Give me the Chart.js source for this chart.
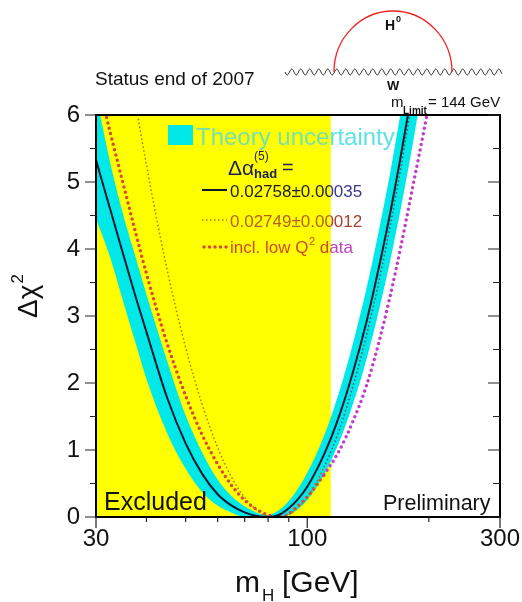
<!DOCTYPE html>
<html>
<head>
<meta charset="utf-8">
<script src="https://cdn.jsdelivr.net/npm/chart.js@4"></script>
<style>
  html, body { margin: 0; padding: 0; background: #ffffff; }
  canvas { display: block; }
</style>
</head>
<body>
<canvas id="chart" width="522" height="602"></canvas>
<script>
const FONT = "'Liberation Sans', Arial, Helvetica, sans-serif";

// Higgs mass grid [GeV]
const higgsMass = [30, 32.5, 35, 37.5, 40, 45, 50, 55, 60, 65, 70, 75, 80, 85, 90, 95,
                   100, 110, 120, 130, 140, 150, 160, 170, 180, 190, 200, 210];

// Delta chi^2, fit with Delta alpha_had = 0.02758 +- 0.00035
const chi2Fit = [5.33, 4.60, 3.93, 3.31, 2.76, 1.78, 1.10, 0.64, 0.34, 0.17, 0.07, 0.015, 0.00, 0.03, 0.13, 0.27,
                 0.45, 0.93, 1.51, 2.18, 2.90, 3.69, 4.50, 5.35, 6.21, 7.05, 7.92, 8.80];

// theory uncertainty band (upper and lower edge)
const bandHigh = [6.30, 5.30, 4.52, 3.90, 3.32, 2.33, 1.52, 0.96, 0.56, 0.31, 0.16, 0.065, 0.03, 0.10, 0.24, 0.43,
                  0.66, 1.21, 1.87, 2.61, 3.40, 4.24, 5.10, 6.01, 6.93, 7.90, 8.80, 9.70];
const bandLow  = [4.45, 3.88, 3.22, 2.62, 2.06, 1.25, 0.72, 0.37, 0.17, 0.065, 0.00, 0.00, 0.00, 0.00, 0.03, 0.12,
                  0.25, 0.63, 1.12, 1.70, 2.34, 3.05, 3.79, 4.57, 5.37, 6.19, 7.01, 7.84];

// Delta alpha_had = 0.02749 +- 0.00012
const chi2Narrow = [10.2, 8.66, 7.34, 6.22, 5.25, 3.69, 2.53, 1.67, 1.04, 0.59, 0.29, 0.10, 0.01, 0.00, 0.04, 0.14,
                    0.30, 0.74, 1.30, 1.97, 2.70, 3.48, 4.31, 5.17, 6.06, 6.96, 7.80, 8.70];

// including low Q^2 data
const chi2LowQ2 = [6.60, 5.75, 4.98, 4.27, 3.63, 2.59, 1.81, 1.22, 0.79, 0.47, 0.25, 0.11, 0.03, 0.00, 0.05, 0.17,
                   0.30, 0.63, 0.99, 1.44, 1.95, 2.58, 3.27, 4.00, 4.75, 5.46, 6.15, 6.80];

// direct search limit [GeV]
const lepLimit = 114.4;

const yTickValues = [0, 1, 2, 3, 4, 5, 6];
const yMinorValues = [0.5, 1.5, 2.5, 3.5, 4.5, 5.5];
const xTickValues = [30, 100, 300];
const xMinorValues = [40, 50, 60, 70, 80, 90, 200];

const pts = arr => higgsMass.map((m, i) => ({ x: m, y: arr[i] }));

const YELLOW = '#ffff00';
const CYAN = '#00e8e8';

// exclusion region under everything
const exclusionPlugin = {
  id: 'exclusion',
  beforeDatasetsDraw(chart) {
    const { ctx, chartArea: a, scales: { x } } = chart;
    const xl = x.getPixelForValue(lepLimit);
    ctx.save();
    ctx.fillStyle = YELLOW;
    ctx.fillRect(a.left, a.top, xl - a.left, a.bottom - a.top);
    ctx.restore();
  }
};

function splitText(ctx, text, px, py, splitX, colLeft, colRight) {
  ctx.save();
  ctx.beginPath(); ctx.rect(0, 0, splitX, 602); ctx.clip();
  ctx.fillStyle = colLeft; ctx.fillText(text, px, py);
  ctx.restore();
  ctx.save();
  ctx.beginPath(); ctx.rect(splitX, 0, 600, 602); ctx.clip();
  ctx.fillStyle = colRight; ctx.fillText(text, px, py);
  ctx.restore();
  return ctx.measureText(text).width;
}

// frame, tick marks, legend and annotations
const decorPlugin = {
  id: 'decor',
  afterDatasetsDraw(chart) {
    const { ctx, chartArea: a, scales: { x, y } } = chart;
    const xl = x.getPixelForValue(lepLimit);
    ctx.save();

    // frame
    ctx.strokeStyle = '#000';
    ctx.lineWidth = 2;
    ctx.strokeRect(a.left, a.top, a.right - a.left, a.bottom - a.top);

    // y ticks: outward on the left, inward on the right
    ctx.lineWidth = 1.2;
    ctx.strokeStyle = '#222';
    ctx.beginPath();
    yTickValues.forEach(v => {
      const py = y.getPixelForValue(v);
      ctx.moveTo(a.left - 11, py); ctx.lineTo(a.left, py);
      ctx.moveTo(a.right - 12, py); ctx.lineTo(a.right, py);
    });
    yMinorValues.forEach(v => {
      const py = y.getPixelForValue(v);
      ctx.moveTo(a.left - 6, py); ctx.lineTo(a.left, py);
      ctx.moveTo(a.right - 7, py); ctx.lineTo(a.right, py);
    });
    xTickValues.forEach(v => {
      const px = x.getPixelForValue(v);
      ctx.moveTo(px, a.bottom); ctx.lineTo(px, a.bottom + 11);
    });
    xMinorValues.forEach(v => {
      const px = x.getPixelForValue(v);
      ctx.moveTo(px, a.bottom); ctx.lineTo(px, a.bottom + 5);
    });
    ctx.stroke();

    // region labels
    ctx.fillStyle = '#111';
    ctx.textBaseline = 'alphabetic';
    ctx.textAlign = 'left';
    ctx.font = `25px ${FONT}`;
    ctx.fillText('Excluded', a.left + 8, a.bottom - 7);
    ctx.font = `21.5px ${FONT}`;
    ctx.fillText('Preliminary', 383, a.bottom - 7);

    // legend
    ctx.fillStyle = CYAN;
    ctx.fillRect(168, 125, 25, 20);
    ctx.font = `24px ${FONT}`;
    splitText(ctx, 'Theory uncertainty', 196, 145, xl, '#74e2b0', '#5ee2e2');

    ctx.fillStyle = '#1e1e50';
    ctx.font = `21px ${FONT}`;
    ctx.fillText('\u0394\u03b1', 228, 175);
    ctx.font = `12px ${FONT}`;
    ctx.fillText('(5)', 254, 160);
    ctx.font = `bold 13px ${FONT}`;
    ctx.fillText('had', 254, 178);
    ctx.font = `20px ${FONT}`;
    ctx.fillText('=', 282, 174);

    // legend line samples
    ctx.lineWidth = 2;
    ctx.strokeStyle = '#0c1a2e';
    ctx.beginPath(); ctx.moveTo(202, 190); ctx.lineTo(227, 190); ctx.stroke();
    ctx.lineWidth = 1.5;
    ctx.strokeStyle = '#b8700e';
    ctx.setLineDash([1.5, 2.5]);
    ctx.beginPath(); ctx.moveTo(202, 220); ctx.lineTo(227, 220); ctx.stroke();
    ctx.lineWidth = 3.5;
    ctx.lineCap = 'round';
    ctx.strokeStyle = '#d84a40';
    ctx.setLineDash([0, 5.5]);
    ctx.beginPath(); ctx.moveTo(204, 247); ctx.lineTo(227, 247); ctx.stroke();
    ctx.setLineDash([]);
    ctx.lineCap = 'butt';

    ctx.font = `17px ${FONT}`;
    splitText(ctx, '0.02758\u00b10.00035', 230, 197, xl, '#1c1c34', '#3a3a8e');
    splitText(ctx, '0.02749\u00b10.00012', 230, 227, xl, '#b8601c', '#a8402e');
    let cx = 230;
    cx += splitText(ctx, 'incl. low Q', cx, 253, xl, '#d04a28', '#c040c0');
    ctx.font = `11px ${FONT}`;
    cx += splitText(ctx, '2', cx + 0.5, 245, xl, '#d04a28', '#c040c0') + 0.5;
    ctx.font = `17px ${FONT}`;
    splitText(ctx, ' data', cx, 253, xl, '#d04a28', '#c040c0');

    ctx.restore();
  },
  afterDraw(chart) {
    const { ctx } = chart;
    ctx.save();
    ctx.fillStyle = '#111';
    ctx.textAlign = 'left';
    ctx.textBaseline = 'alphabetic';

    // header
    ctx.font = `19px ${FONT}`;
    ctx.fillText('Status end of 2007', 95, 85);

    // W self-energy loop with a Higgs
    ctx.strokeStyle = '#333';
    ctx.lineWidth = 1;
    ctx.beginPath();
    for (let px = 285; px <= 502; px += 0.5) {
      const py = 72 + 3 * Math.sin((px - 285) / 9 * 2 * Math.PI);
      if (px === 285) ctx.moveTo(px, py); else ctx.lineTo(px, py);
    }
    ctx.stroke();
    ctx.strokeStyle = '#ee2020';
    ctx.lineWidth = 1.3;
    ctx.beginPath();
    ctx.ellipse(393, 72, 59, 61, 0, Math.PI, 2 * Math.PI);
    ctx.stroke();
    ctx.font = `bold 14px ${FONT}`;
    ctx.fillText('H', 385, 30);
    ctx.font = `bold 9px ${FONT}`;
    ctx.fillText('0', 396, 22);
    ctx.font = `bold 13px ${FONT}`;
    ctx.fillText('W', 387, 90);

    // search limit note
    ctx.font = `15px ${FONT}`;
    ctx.fillText('m', 391, 107);
    ctx.font = `bold 10px ${FONT}`;
    ctx.fillText('Limit', 403, 114);
    ctx.font = `15px ${FONT}`;
    ctx.fillText('= 144 GeV', 428, 107);

    // axis titles
    ctx.font = `30px ${FONT}`;
    ctx.fillText('m', 235, 592);
    ctx.font = `17px ${FONT}`;
    ctx.fillText('H', 262, 601);
    ctx.font = `30px ${FONT}`;
    ctx.fillText('[GeV]', 282, 592);

    ctx.translate(37, 318);
    ctx.rotate(-Math.PI / 2);
    ctx.font = `28px ${FONT}`;
    ctx.fillText('\u0394\u03c7', 0, 0);
    const w = ctx.measureText('\u0394\u03c7').width;
    ctx.font = `17px ${FONT}`;
    ctx.fillText('2', w + 1, -14);
    ctx.restore();
  }
};

const outer = (p0, p1) => (p0.parsed.x + p1.parsed.x) / 2 < lepLimit;

new Chart(document.getElementById('chart'), {
  type: 'line',
  data: {
    datasets: [
      {
        label: '0.02758\u00b10.00035',
        data: pts(chi2Fit),
        borderColor: '#0c1a2e',
        borderWidth: 2,
        pointRadius: 0,
        cubicInterpolationMode: 'monotone',
        fill: false
      },
      {
        label: '0.02749\u00b10.00012',
        data: pts(chi2Narrow),
        borderColor: '#b8700e',
        borderWidth: 1.5,
        borderDash: [1.5, 2.5],
        pointRadius: 0,
        cubicInterpolationMode: 'monotone',
        fill: false,
        segment: { borderColor: c => outer(c.p0, c.p1) ? '#b8700e' : '#3e5e6a' }
      },
      {
        label: 'incl. low Q2 data',
        data: pts(chi2LowQ2),
        borderColor: '#d84a40',
        borderWidth: 3.5,
        borderDash: [0, 5.5],
        borderCapStyle: 'round',
        pointRadius: 0,
        cubicInterpolationMode: 'monotone',
        fill: false,
        segment: { borderColor: c => outer(c.p0, c.p1) ? '#d84a40' : '#c23cc8' }
      },
      {
        label: 'Theory uncertainty',
        data: pts(bandHigh),
        borderColor: 'rgba(0,0,0,0)',
        borderWidth: 0,
        backgroundColor: CYAN,
        pointRadius: 0,
        cubicInterpolationMode: 'monotone',
        fill: '+1'
      },
      {
        label: 'band low',
        data: pts(bandLow),
        borderColor: 'rgba(0,0,0,0)',
        borderWidth: 0,
        pointRadius: 0,
        cubicInterpolationMode: 'monotone',
        fill: false
      }
    ]
  },
  options: {
    responsive: false,
    animation: false,
    devicePixelRatio: 1,
    events: [],
    layout: { padding: { top: 115, right: 22, bottom: 0, left: 0 } },
    plugins: { legend: { display: false }, tooltip: { enabled: false }, title: { display: false } },
    scales: {
      x: {
        type: 'logarithmic',
        min: 30,
        max: 300,
        afterBuildTicks: s => { s.ticks = xTickValues.map(v => ({ value: v })); },
        afterFit: s => { s.height = 85; s.paddingLeft = 0; s.paddingRight = 0; },
        grid: { display: false, drawTicks: false },
        border: { display: false },
        ticks: {
          autoSkip: false, maxRotation: 0, padding: 8, color: '#111',
          font: { family: FONT, size: 24 },
          callback: v => String(v)
        }
      },
      y: {
        min: 0,
        max: 6,
        afterBuildTicks: s => { s.ticks = yTickValues.map(v => ({ value: v })); },
        afterFit: s => { s.width = 96; s.paddingTop = 0; s.paddingBottom = 0; },
        grid: { display: false, drawTicks: false },
        border: { display: false },
        ticks: { padding: 16, color: '#111', font: { family: FONT, size: 24 } }
      }
    }
  },
  plugins: [exclusionPlugin, decorPlugin]
});
</script>
</body>
</html>
